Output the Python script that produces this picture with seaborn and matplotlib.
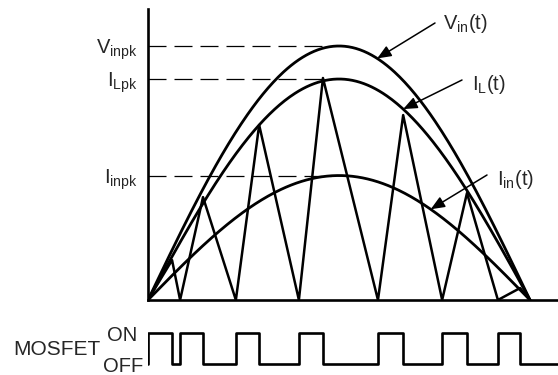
import matplotlib
matplotlib.use("Agg")
import matplotlib.pyplot as plt
import seaborn as sns
import numpy as np
import pandas as pd

# peak values (Vinpk = 1)
vin_pk = 1.0
il_pk = 0.87
iin_pk = 0.49

# switching instants over half a line cycle (0..1)
valley_t = [0.0, 0.084, 0.230, 0.395, 0.602, 0.770, 0.916, 1.0]
peak_t = [0.063, 0.144, 0.291, 0.458, 0.668, 0.835, 0.974]
peak_i = [0.157, 0.405, 0.689, 0.874, 0.728, 0.421, 0.047]

level_labels = ["$\\mathregular{V_{inpk}}$", "$\\mathregular{I_{Lpk}}$", "$\\mathregular{I_{inpk}}$"]
curve_labels = ["$\\mathregular{V_{in}(t)}$", "$\\mathregular{I_L(t)}$", "$\\mathregular{I_{in}(t)}$"]

sns.set_style("white")
plt.rcParams["font.family"] = ["Liberation Sans", "DejaVu Sans"]
plt.rcParams["mathtext.fontset"] = "custom"
plt.rcParams["mathtext.rm"] = "Liberation Sans"

W, H = 558, 375
fig = plt.figure(figsize=(W / 100, H / 100), dpi=100)
ax = fig.add_axes([148 / W, 75 / H, 410 / W, 291 / H])
ax.set_xlim(0, 410 / 382)
ax.set_ylim(0, 291 / 254)

lw = 2.0
t = np.linspace(0, 1, 300)
env = pd.DataFrame({"t": t,
                    "vin": vin_pk * np.sin(np.pi * t),
                    "il": il_pk * np.sin(np.pi * t),
                    "iin": iin_pk * np.sin(np.pi * t)})
for col in ["vin", "il", "iin"]:
    sns.lineplot(data=env, x="t", y=col, ax=ax, color="black", lw=lw, estimator=None)

# inductor current triangle
tri_t, tri_i = [valley_t[0]], [0.0]
for k in range(len(peak_t)):
    tri_t += [peak_t[k], valley_t[k + 1]]
    tri_i += [peak_i[k], 0.0]
tri = pd.DataFrame({"t": tri_t, "i": tri_i})
sns.lineplot(data=tri, x="t", y="i", ax=ax, color="black", lw=1.8, estimator=None, sort=False)

# dashed peak levels
for val, lab in zip([vin_pk, il_pk, iin_pk], level_labels):
    ax.plot([0, 0.48], [val, val], color="black", lw=0.9, ls=(0, (14.4, 6.4)))
    ax.annotate(lab, xy=(0, val), xycoords=("axes fraction", "data"),
                xytext=(-7.5, -5.8), textcoords="offset points",
                ha="right", va="baseline", fontsize=14.5)

# curve labels with arrows
def px(x, y):
    return (x - 148) / 382, (300 - y) / 254

arrow_t = [0.600, 0.668, 0.740]
amps = [vin_pk, il_pk, iin_pk]
tails = [px(435, 23), px(462, 80), px(487, 175)]
texts = [px(443, 29), px(472, 90), px(497, 185)]
for at, amp, tail, tp, lab in zip(arrow_t, amps, tails, texts, curve_labels):
    ax.annotate("", xy=(at, amp * np.sin(np.pi * at)), xytext=tail,
                arrowprops=dict(arrowstyle="-|>,head_length=0.6,head_width=0.25",
                                mutation_scale=14, color="black", lw=1.1,
                                shrinkA=0, shrinkB=0))
    ax.text(tp[0], tp[1], lab, ha="left", va="baseline", fontsize=14.5)

for s in ["top", "right"]:
    ax.spines[s].set_visible(False)
for s in ["left", "bottom"]:
    ax.spines[s].set_color("black")
    ax.spines[s].set_linewidth(1.9)
ax.set_xticks([])
ax.set_yticks([])
ax.set_xlabel("")
ax.set_ylabel("")

# MOSFET gate signal
ax2 = fig.add_axes([148 / W, 8 / H, 410 / W, 37 / H])
ax2.set_xlim(0, 410 / 382)
ax2.set_ylim(-3 / 31, 1 + 3 / 31)
gx, gy = [], []
for v, p in zip(valley_t[:-1], peak_t):
    gx += [v, v, p, p]
    gy += [0, 1, 1, 0]
gx.append(410 / 382)
gy.append(0)
gate = pd.DataFrame({"t": gx, "s": gy})
sns.lineplot(data=gate, x="t", y="s", ax=ax2, color="black", lw=1.9, estimator=None, sort=False)
ax2.axis("off")

fig.text(13 / W, 1 - 355 / H, "MOSFET", fontsize=15, ha="left", va="baseline")
fig.text(137 / W, 1 - 341 / H, "ON", fontsize=14.5, ha="right", va="baseline")
fig.text(143 / W, 1 - 372 / H, "OFF", fontsize=14.5, ha="right", va="baseline")

fig.savefig("out.png", dpi=100)
